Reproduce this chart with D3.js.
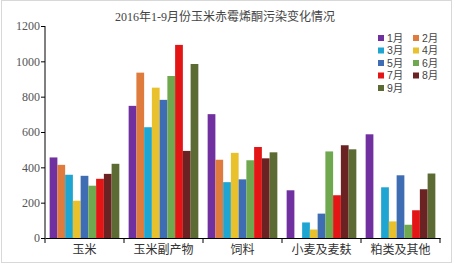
<!DOCTYPE html>
<html>
<head>
<meta charset="utf-8">
<script src="https://cdn.jsdelivr.net/npm/d3@7"></script>
<style>
  body { margin: 0; background: #fff; }
  svg { display: block; font-family: "Liberation Serif", "Noto Sans CJK SC", serif; }
</style>
</head>
<body>
<div id="chart"></div>
<script>
const categories = ["玉米", "玉米副产物", "饲料", "小麦及麦麸", "粕类及其他"];
const months = ["1月", "2月", "3月", "4月", "5月", "6月", "7月", "8月", "9月"];
// one array per month, values per category
const m1 = [456, 748, 701, 270, 587];
const m2 = [414, 936, 443, 0, 0];
const m3 = [358, 627, 316, 88, 287];
const m4 = [211, 851, 482, 48, 94];
const m5 = [352, 782, 332, 138, 355];
const m6 = [296, 917, 440, 490, 75];
const m7 = [335, 1093, 515, 242, 157];
const m8 = [363, 493, 451, 525, 276];
const m9 = [420, 985, 485, 502, 365];
const yTicks = [0, 200, 400, 600, 800, 1000, 1200];
const colors = ["#7030a0", "#e07b3e", "#1ea5d2", "#e8c12c", "#3e6db4", "#6fa84e", "#e31515", "#6b2222", "#5c6b34"];

const series = [m1, m2, m3, m4, m5, m6, m7, m8, m9];

const width = 455, height = 266;
const margin = {top: 26, right: 15, bottom: 28, left: 45};

const svg = d3.select("#chart").append("svg")
  .attr("width", width)
  .attr("height", height);

// outer frame
svg.append("rect")
  .attr("x", 1.5).attr("y", 0.5)
  .attr("width", 450).attr("height", 262)
  .attr("fill", "none")
  .attr("stroke", "#d8d8d8");

const x0 = d3.scaleBand().domain(categories).range([margin.left, width - margin.right]);
const x1 = d3.scaleBand().domain(months).range([0, x0.bandwidth()]).paddingOuter(0.6).paddingInner(0);
const y = d3.scaleLinear().domain([0, 1200]).range([238, margin.top]);

svg.append("text")
  .attr("x", 225).attr("y", 21)
  .attr("text-anchor", "middle")
  .attr("font-size", 12)
  .attr("fill", "#444")
  .text("2016年1-9月份玉米赤霉烯酮污染变化情况");

const groups = svg.append("g").selectAll("g")
  .data(categories)
  .join("g")
  .attr("transform", d => `translate(${x0(d)},0)`);

groups.selectAll("rect")
  .data((c, ci) => series.map((s, mi) => ({m: months[mi], v: s[ci], i: mi})))
  .join("rect")
  .attr("x", d => x1(d.m))
  .attr("width", x1.bandwidth())
  .attr("y", d => y(d.v))
  .attr("height", d => y(0) - y(d.v))
  .attr("fill", d => colors[d.i]);

// y axis
svg.append("g")
  .attr("transform", `translate(${margin.left},0)`)
  .call(d3.axisLeft(y).tickValues(yTicks).tickFormat(d3.format("d")).tickSize(4).tickSizeOuter(0))
  .call(g => g.select(".domain").attr("stroke", "#000").attr("d", `M0,${y(1200)}V${y(0)}`))
  .call(g => g.selectAll(".tick line").attr("stroke", "#000"))
  .call(g => g.selectAll(".tick text").attr("font-size", 12).attr("fill", "#555")
    .attr("font-family", "Liberation Serif, serif").attr("x", -5));

// x axis
const xAxis = d3.axisBottom(x0).tickSize(0).tickSizeOuter(0);
const gx = svg.append("g")
  .attr("transform", `translate(0,${y(0)})`)
  .call(xAxis)
  .call(g => g.select(".domain").attr("stroke", "#000"))
  .call(g => g.selectAll(".tick text").attr("font-size", 12).attr("fill", "#333")
    .attr("font-family", "Noto Sans CJK SC, sans-serif").attr("dy", "1.05em"));

// category boundary ticks
const bounds = categories.map(c => x0(c)).concat([x0.range()[1]]);
gx.selectAll(".bound")
  .data(bounds)
  .join("line")
  .attr("x1", d => d).attr("x2", d => d)
  .attr("y1", 0).attr("y2", 5)
  .attr("stroke", "#000");

// legend
const legend = svg.append("g");
const items = legend.selectAll("g")
  .data(months)
  .join("g")
  .attr("transform", (d, i) => `translate(${378 + (i % 2) * 35},${38 + Math.floor(i / 2) * 12.5})`);
items.append("rect")
  .attr("x", 0).attr("y", -3)
  .attr("width", 6).attr("height", 6)
  .attr("fill", (d, i) => colors[i]);
items.append("text")
  .attr("x", 9).attr("y", 0)
  .attr("dy", "0.35em")
  .attr("font-size", 10.5)
  .attr("fill", "#444")
  .attr("font-family", "Liberation Sans, Noto Sans CJK SC, sans-serif")
  .text(d => d);
</script>
</body>
</html>
